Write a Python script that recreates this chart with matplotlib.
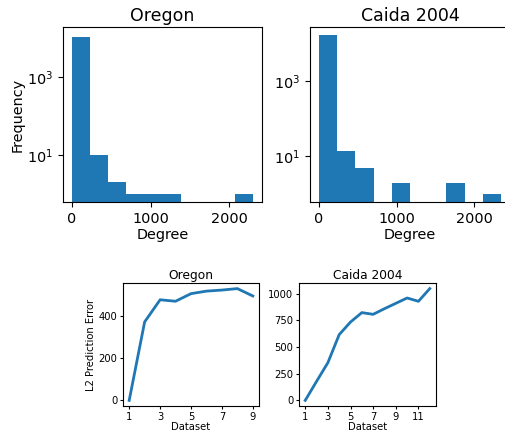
import numpy as np
import matplotlib
matplotlib.use("Agg")
import matplotlib.pyplot as plt

# degree histograms (10 bins, counts)
oregon_max_degree = 2302
oregon_counts = [10650, 10, 2, 1, 1, 1, 0, 0, 0, 1]
caida_max_degree = 2344
caida_counts = [16100, 14, 5, 0, 2, 0, 0, 2, 0, 1]

# L2 prediction error per dataset
oregon_datasets = [1, 2, 3, 4, 5, 6, 7, 8, 9]
oregon_error = [0, 372, 477, 470, 506, 518, 523, 530, 495]
caida_datasets = [1, 2, 3, 4, 5, 6, 7, 8, 9, 10, 11, 12]
caida_error = [0, 178, 353, 616, 734, 822, 806, 859, 909, 959, 928, 1047]

W, H = 506, 433
fig = plt.figure(figsize=(W / 100, H / 100), dpi=100)


def box(x0, x1, y0, y1):
    # pixel box -> figure fraction
    return [x0 / W, 1 - y1 / H, (x1 - x0) / W, (y1 - y0) / H]


def degree_hist(ax, counts, max_degree, title, ylim):
    edges = np.linspace(0, max_degree, len(counts) + 1)
    ax.bar(edges[:-1], counts, width=np.diff(edges), align="edge", color="#1f77b4")
    ax.set_yscale("log")
    ax.set_ylim(*ylim)
    ax.set_xlim(-0.05 * max_degree, 1.05 * max_degree)
    ax.set_xticks([0, 1000, 2000])
    ax.set_yticks([10, 1000])
    ax.minorticks_off()
    ax.tick_params(labelsize=10.4)
    ax.set_xlabel("Degree", fontsize=10.4, labelpad=2)
    ax.set_title(title, fontsize=12.5, pad=4.5)


ax1 = fig.add_axes(box(63, 262, 27, 202))
degree_hist(ax1, oregon_counts, oregon_max_degree, "Oregon", (0.63, 19000))
ax1.set_ylabel("Frequency", fontsize=10.4, labelpad=2)

ax2 = fig.add_axes(box(310, 510, 27, 202))
degree_hist(ax2, caida_counts, caida_max_degree, "Caida 2004", (0.61, 26700))


def error_line(ax, x, y, title, xticks):
    ax.plot(x, y, color="#1f77b4", linewidth=2.0)
    ax.set_xticks(xticks)
    ax.tick_params(labelsize=7.2, length=2.5, pad=1.5)
    ax.set_xlabel("Dataset", fontsize=7.2, labelpad=0.5)
    ax.set_title(title, fontsize=8.8, pad=3)


ax3 = fig.add_axes(box(123, 259, 283, 406))
error_line(ax3, oregon_datasets, oregon_error, "Oregon", [1, 3, 5, 7, 9])
ax3.set_yticks([0, 200, 400])
ax3.set_ylabel("L2 Prediction Error", fontsize=7.2, labelpad=2)

ax4 = fig.add_axes(box(299, 436, 283, 406))
error_line(ax4, caida_datasets, caida_error, "Caida 2004", [1, 3, 5, 7, 9, 11])
ax4.set_yticks([0, 250, 500, 750, 1000])

fig.savefig("out.png", dpi=100)
